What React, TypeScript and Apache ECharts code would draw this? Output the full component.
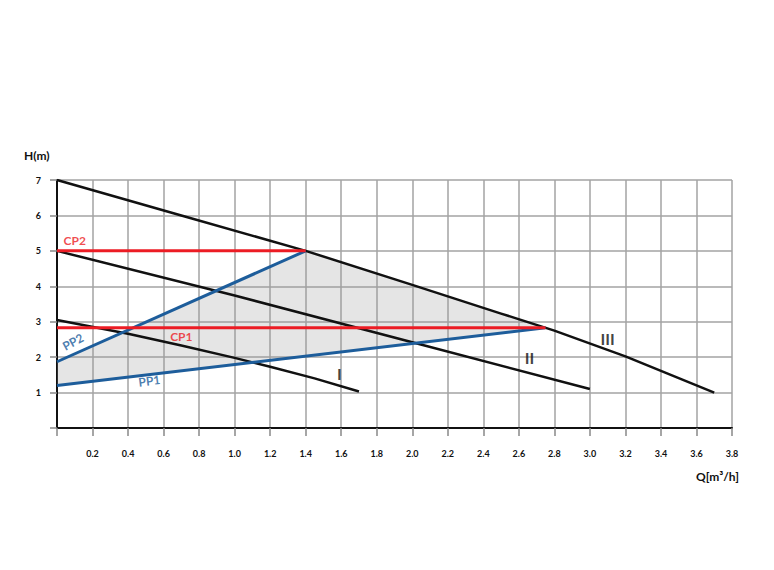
import React, { useEffect, useRef } from "react";
import * as echarts from "echarts";

const curveI = [[0, 3.05], [0.4, 2.66], [0.7, 2.33], [1.0, 1.98], [1.2, 1.73], [1.45, 1.4], [1.7, 1.03]];
const curveII = [[0, 5], [1.0, 3.74], [2.0, 2.42], [3.0, 1.1]];
const curveIII = [[0, 7], [0.7, 6.0], [1.4, 5], [2.0, 4.04], [2.5, 3.23], [2.8, 2.75], [3.2, 2.02], [3.7, 1.0]];
const cp1 = [[0, 2.83], [2.75, 2.83]];
const cp2 = [[0, 5], [1.4, 5]];
const pp1 = [[0, 1.2], [2.75, 2.83]];
const pp2 = [[0, 1.87], [1.4, 5]];

const RED = "#ec1c24";
const BLUE = "#1d5d9b";
const BLACK = "#111111";

const curveLabels = [
  { text: "CP2", pos: [0.1, 5.28], color: RED, rotate: 0, size: 12 },
  { text: "CP1", pos: [0.7, 2.57], color: RED, rotate: 0, size: 12 },
  { text: "PP2", pos: [0.09, 2.43], color: BLUE, rotate: 28, size: 12 },
  { text: "PP1", pos: [0.52, 1.33], color: BLUE, rotate: 7, size: 12 },
  { text: "I", pos: [1.59, 1.55], color: BLACK, rotate: 0, size: 16 },
  { text: "II", pos: [2.66, 1.98], color: BLACK, rotate: 0, size: 16 },
  { text: "III", pos: [3.1, 2.54], color: BLACK, rotate: 0, size: 16 },
];

const FONT = "Lato";

export default function App() {
  const ref = useRef<HTMLDivElement>(null);
  useEffect(() => {
    if (!ref.current) return;
    const chart = echarts.init(ref.current, null, { renderer: "svg" });
    const polygon = [
      ...pp1,
      ...curveIII.filter((p) => p[0] > 1.4 && p[0] < 2.75).reverse(),
      ...[...pp2].reverse(),
    ];
    const lineSeries = (data: number[][], color: string, width: number) => ({
      type: "line",
      data,
      showSymbol: false,
      symbol: "none",
      lineStyle: { color, width, join: "round" },
      z: 3,
    });
    chart.setOption({
      animation: false,
      backgroundColor: "#ffffff",
      grid: { left: 57, right: 42, top: 180, bottom: 142 },
      xAxis: {
        type: "value",
        min: 0,
        max: 3.8,
        interval: 0.2,
        axisLine: { show: true, lineStyle: { color: BLACK, width: 2 } },
        axisTick: { show: true, length: 8, lineStyle: { color: "#888", width: 1.5 } },
        splitLine: { show: true, lineStyle: { color: "#a3a3a3", width: 1.5 } },
        axisLabel: {
          margin: 21,
          fontFamily: FONT,
          fontWeight: "bold",
          fontSize: 9,
          color: "#111",
          formatter: (v: number) => (v === 0 ? "" : v.toFixed(1)),
        },
      },
      yAxis: {
        type: "value",
        min: 0,
        max: 7,
        interval: 1,
        axisLine: { show: true, lineStyle: { color: BLACK, width: 2 } },
        axisTick: { show: true, length: 7, lineStyle: { color: "#888", width: 1.5 } },
        splitLine: { show: true, lineStyle: { color: "#a3a3a3", width: 1.5 } },
        axisLabel: {
          margin: 16,
          fontFamily: FONT,
          fontWeight: "bold",
          fontSize: 9,
          color: "#111",
          formatter: (v: number) => (v === 0 ? "" : String(v)),
        },
      },
      graphic: [
        { type: "text", left: 24, top: 149, style: { text: "H(m)", font: `bold 12px ${FONT}`, fill: "#111" } },
        { type: "text", left: 696, top: 470, style: { text: "Q[m³/h]", font: `bold 12px ${FONT}`, fill: "#111" } },
      ],
      series: [
        {
          type: "custom",
          data: polygon,
          z: 1,
          renderItem: (params: any, api: any) => {
            if (params.dataIndex !== 0) return null;
            const pts = polygon.map((p) => api.coord(p));
            return {
              type: "polygon",
              shape: { points: pts },
              style: { fill: "rgba(150,150,150,0.25)" },
            };
          },
        },
        lineSeries(curveI, BLACK, 2.5),
        lineSeries(curveII, BLACK, 2.5),
        lineSeries(curveIII, BLACK, 2.5),
        lineSeries(pp1, BLUE, 3),
        lineSeries(pp2, BLUE, 3),
        lineSeries(cp1, RED, 3),
        lineSeries(cp2, RED, 3),
        {
          type: "scatter",
          symbolSize: 0,
          z: 5,
          data: curveLabels.map((l) => ({
            value: l.pos,
            label: {
              show: true,
              position: "inside",
              formatter: l.text,
              color: l.color,
              rotate: l.rotate,
              fontFamily: FONT,
              fontWeight: "bold",
              fontSize: l.size,
            },
          })),
        },
      ],
    });
    return () => chart.dispose();
  }, []);
  return <div ref={ref} style={{ position: "absolute", left: 0, top: 0, width: 774, height: 570 }} />;
}
